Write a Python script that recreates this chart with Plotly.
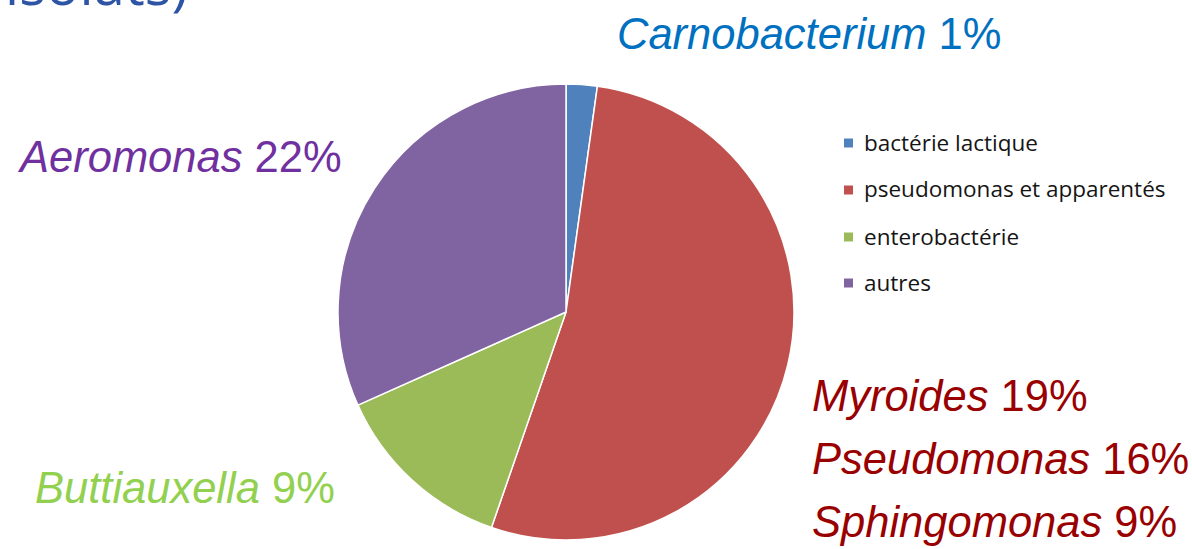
import plotly.graph_objects as go

W, H = 1192, 549

# Data
categories = ["bactérie lactique", "pseudomonas et apparentés", "enterobactérie", "autres"]
values = [2.2, 53.1, 13.0, 31.7]
colors = ["#4F81BD", "#C0504D", "#9BBB59", "#8064A2"]

# Callout labels
callout_names = ["Carnobacterium", "Aeromonas", "Buttiauxella", "Myroides", "Pseudomonas", "Sphingomonas"]
callout_pcts = ["1%", "22%", "9%", "19%", "16%", "9%"]
callout_colors = ["#0070C0", "#7030A0", "#92D050", "#990000", "#990000", "#990000"]
callout_pos = [(615, 34), (15, 157), (33, 488), (810, 396), (810, 459), (810, 522)]

def px(x):
    return x / W

def py(y):
    return 1 - y / H

fig = go.Figure()
cx, cy, r = 566, 312, 228
fig.add_trace(go.Pie(
    labels=categories, values=values, sort=False, direction="clockwise", rotation=0,
    marker=dict(colors=colors, line=dict(color="white", width=1.5)),
    textinfo="none", hoverinfo="label+percent", showlegend=False,
    domain=dict(x=[px(cx - r), px(cx + r)], y=[py(cy + r), py(cy - r)]),
))

annotations = []
shapes = []
# Legend drawn from categories
leg_y = [143, 190, 237, 283]
for cat, col, y in zip(categories, colors, leg_y):
    shapes.append(dict(type="rect", xref="paper", yref="paper",
                       x0=px(844), x1=px(853), y0=py(y + 4.5), y1=py(y - 4.5),
                       fillcolor=col, line=dict(width=0)))
    annotations.append(dict(text=cat, x=px(862), y=py(y - 1), xref="paper", yref="paper",
                            xanchor="left", yanchor="middle", showarrow=False,
                            font=dict(family="Open Sans", size=22.5, color="#151515")))

for name, pct, col, (x, y) in zip(callout_names, callout_pcts, callout_colors, callout_pos):
    annotations.append(dict(text=f"<i>{name}</i> {pct}", x=px(x), y=py(y), xref="paper", yref="paper",
                            xanchor="left", yanchor="middle", showarrow=False,
                            font=dict(family="Liberation Sans", size=43.5, color=col)))

# Cut-off title fragment (partially outside the top edge, as in the reference)
annotations.append(dict(text="isolats)", x=px(3), y=py(-17), xref="paper", yref="paper",
                        xanchor="left", yanchor="middle", showarrow=False,
                        font=dict(family="Open Sans", size=56, color="#2E54A6")))

fig.update_layout(width=W, height=H, margin=dict(l=0, r=0, t=0, b=0),
                  paper_bgcolor="white", plot_bgcolor="white",
                  annotations=annotations, shapes=shapes, showlegend=False)

fig.write_html("out.html", config={"displayModeBar": False},
               post_script="document.body.style.margin='0';")
